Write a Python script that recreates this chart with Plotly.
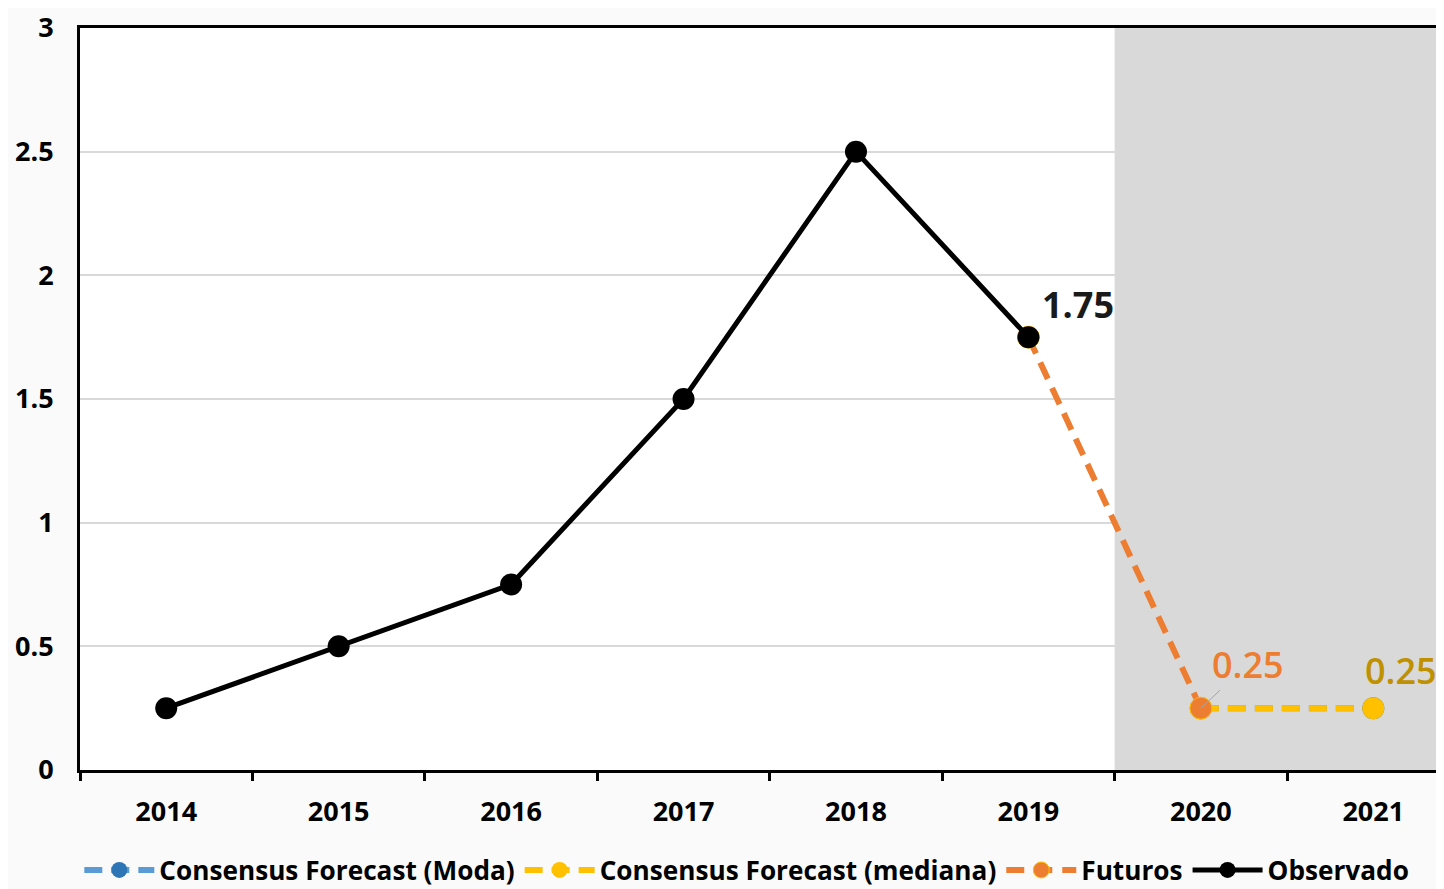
import plotly.graph_objects as go

years = ["2014", "2015", "2016", "2017", "2018", "2019", "2020", "2021"]
observado = [0.25, 0.5, 0.75, 1.5, 2.5, 1.75, None, None]
futuros = [None, None, None, None, None, 1.75, 0.25, None]
mediana = [None, None, None, None, None, None, 0.25, 0.25]
moda = [None, None, None, None, None, None, 0.25, 0.25]
y_ticks = [0, 0.5, 1, 1.5, 2, 2.5, 3]
y_tick_text = ["0", "0.5", "1", "1.5", "2", "2.5", "3"]

FONT = "Open Sans"
fig = go.Figure()

fig.add_trace(go.Scatter(
    x=years, y=moda, name="Consensus Forecast (Moda)", mode="lines+markers",
    line=dict(color="#5B9BD5", width=6, dash="18px,9px"),
    marker=dict(color="#2E75B6", size=22)))
fig.add_trace(go.Scatter(
    x=years, y=mediana, name="Consensus Forecast (mediana)", mode="lines+markers",
    line=dict(color="#FFC000", width=6, dash="18px,9px"),
    marker=dict(color="#FFC000", size=22)))
fig.add_trace(go.Scatter(
    x=years, y=futuros, name="Futuros", mode="lines+markers",
    line=dict(color="#ED7D31", width=6, dash="18px,10px"),
    marker=dict(color="#ED7D31", size=22, line=dict(color="#FFC000", width=1))))
fig.add_trace(go.Scatter(
    x=years, y=observado, name="Observado", mode="lines+markers",
    line=dict(color="#000000", width=5),
    marker=dict(color="#000000", size=22)))

# shaded forecast region
fig.add_shape(type="rect", xref="x", yref="y", x0=5.5, x1=8, y0=0, y1=3,
              fillcolor="#D9D9D9", line=dict(width=0), layer="between")

fig.add_annotation(x=5, y=observado[5], text="<b>1.75</b>", showarrow=False,
                   xshift=50, yshift=33, font=dict(family=FONT, size=36, color="#1a1a1a"))
fig.add_annotation(x=6, y=futuros[6], text="0.25", showarrow=True,
                   ax=47, ay=-44, arrowhead=0, arrowwidth=1, arrowcolor="#A6A6A6",
                   font=dict(family=FONT, size=36, color="#ED7D31", weight=600))
fig.add_annotation(x=7, y=mediana[7], text="0.25", showarrow=False,
                   xshift=28, yshift=38, font=dict(family=FONT, size=36, color="#BF9000", weight=600))

fig.update_layout(
    width=1436, height=900,
    margin=dict(l=72, r=0, t=18, b=138),
    paper_bgcolor="#FAFAFA", plot_bgcolor="#FFFFFF",
    font=dict(family=FONT, color="#000000"),
    showlegend=True,
    legend=dict(orientation="h", x=-0.0005, xanchor="left", y=-0.103, yanchor="top",
                font=dict(family=FONT, size=26.2, color="#000000", weight="bold"),
                bgcolor="rgba(0,0,0,0)", traceorder="normal", itemwidth=70,
                tracegroupgap=0),
    xaxis=dict(type="category", categoryorder="array", categoryarray=years,
               range=[-0.5, 7.41], showgrid=False, showline=True, linecolor="#000000",
               linewidth=3, mirror=True, ticks="outside", tickson="boundaries",
               ticklen=8, tickwidth=3, tickcolor="#000000",
               tickfont=dict(family=FONT, size=27, color="#000000", weight="bold"),
               ticklabelstandoff=16, zeroline=False),
    yaxis=dict(range=[0, 3], tickvals=y_ticks, ticktext=y_tick_text,
               showgrid=True, gridcolor="#D9D9D9", gridwidth=2,
               showline=True, linecolor="#000000", linewidth=3, ticks="",
               tickfont=dict(family=FONT, size=27, color="#000000", weight="bold"),
               ticklabelstandoff=18, zeroline=False, ticklabeloverflow="allow"),
)

fig.write_html("out.html")
